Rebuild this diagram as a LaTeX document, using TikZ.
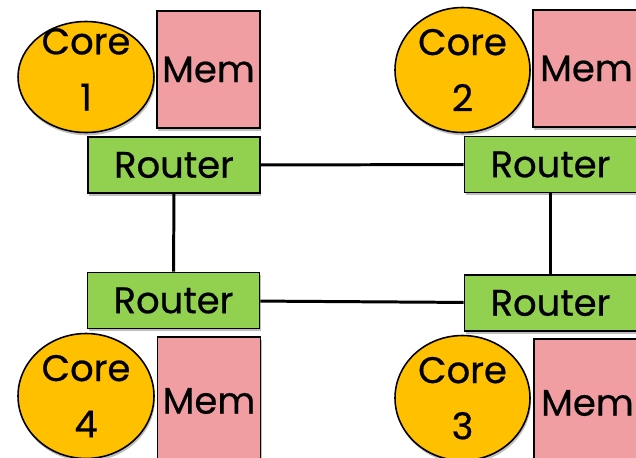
\documentclass[tikz,border=0pt]{standalone}
\usepackage{fontspec}
\setmainfont{Poppins}
\newfontfamily\labelfont{Poppins}[FakeBold=0.6]
\usetikzlibrary{shapes.geometric,shadows}

\definecolor{coreorange}{HTML}{FFC000}
\definecolor{mempink}{HTML}{F09EA1}
\definecolor{routergreen}{HTML}{92D050}

% two-line core caption of zero size, so the ellipse keeps its own dimensions;
% the optional argument moves the caption up within the ellipse
\newcommand{\corecaption}[2][0pt]{%
  \raisebox{\dimexpr #1-5.25pt\relax}[0pt][0pt]{\begin{tabular}{@{}c@{}}Core\\#2\end{tabular}}}

\tikzset{
  soft/.style={drop shadow={shadow xshift=0.6pt, shadow yshift=-1.6pt, opacity=0.25, fill=black}},
  core/.style={ellipse, draw=black, line width=0.9pt, fill=coreorange, soft,
    inner sep=0pt, font=\labelfont\fontsize{21}{32}\selectfont},
  mem/.style={rectangle, draw=black, line width=0.9pt, fill=mempink, soft,
    inner sep=0pt, font=\labelfont\fontsize{21}{25}\selectfont},
  router/.style={rectangle, draw=black, line width=0.9pt, fill=routergreen, soft,
    inner sep=0pt, minimum width=3.44cm, minimum height=1.12cm,
    font=\labelfont\fontsize{21}{25}\selectfont},
  link/.style={draw=black, line width=1.7pt}
}

\begin{document}
\begin{tikzpicture}[x=0.02cm, y=-0.02cm]
  \useasboundingbox (0,0) rectangle (636,457);
  \clip (0,0) rectangle (636,457);

  % routers
  \node[router] (r1) at (174,165) {Router};
  \node[router] (r2) at (550.5,164.5) {Router};
  \node[router] (r4) at (173.5,300.5) {Router};
  \node[router] (r3) at (550.5,303) {Router};

  % mesh links
  \draw[link] (r1) -- (r2);
  \draw[link] (r4) -- (r3);
  \draw[link] (r1) -- (r4);
  \draw[link] (r2) -- (r3);

  % memories
  \node[mem, minimum width=2.06cm, minimum height=2.34cm] (m1) at (208.5,69.5) {Mem};
  \node[mem, minimum width=2.14cm, minimum height=2.34cm] (m2) at (586.5,68.5) {Mem};
  \node[mem, minimum width=2.06cm, minimum height=2.56cm] (m4) at (209,401) {Mem};
  \node[mem, minimum width=2.14cm, minimum height=2.56cm] (m3) at (587.5,403) {Mem};

  % cores
  \node[core, minimum width=2.72cm, minimum height=2.22cm] (c1) at (86,77) {\corecaption[3.4pt]{1}};
  \node[core, minimum width=2.70cm, minimum height=2.50cm] (c2) at (462.5,70) {\corecaption[-1pt]{2}};
  \node[core, minimum width=2.72cm, minimum height=2.50cm] (c4) at (86,396) {\corecaption[-1pt]{4}};
  \node[core, minimum width=2.70cm, minimum height=2.50cm] (c3) at (462.5,398) {\corecaption[-1pt]{3}};
\end{tikzpicture}
\end{document}
